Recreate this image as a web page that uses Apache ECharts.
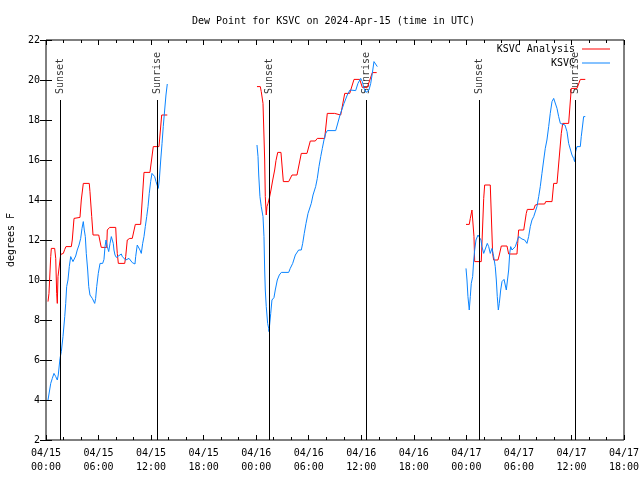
<!DOCTYPE html>
<html>
<head>
<meta charset="utf-8">
<script src="https://cdn.jsdelivr.net/npm/echarts@6/dist/echarts.min.js"></script>
<style>html,body{margin:0;padding:0;background:#fff;}#c{width:640px;height:480px;}</style>
</head>
<body>
<div id="c"></div>
<script>
// Time is hours after 2024-04-15 00:00 UTC; values are dew point in degrees F.
const analysisApr15 = [[0.23,8.92],[0.34,9.33],[0.54,11.17],[0.61,11.58],[0.99,11.58],[1.11,11.08],[1.22,9.33],[1.29,8.83],[1.37,10.17],[1.68,11.28],[1.98,11.33],[2.14,11.53],[2.28,11.67],[2.89,11.67],[3.0,12.0],[3.2,13.08],[3.28,13.13],[3.88,13.13],[4.03,14.0],[4.26,14.83],[4.94,14.83],[5.02,14.42],[5.22,13.17],[5.37,12.25],[6.02,12.25],[6.25,11.75],[6.31,11.63],[6.93,11.63],[7.0,12.5],[7.27,12.63],[7.96,12.63],[8.03,12.0],[8.14,11.33],[8.26,10.83],[8.99,10.83],[9.1,11.17],[9.28,12.0],[9.56,12.08],[9.85,12.08],[10.2,12.78],[10.81,12.78],[11.19,15.38],[11.87,15.38],[12.25,16.67],[12.9,16.67],[13.21,18.25],[13.85,18.25]];
const analysisApr16 = [[24.09,19.67],[24.47,19.67],[24.58,19.42],[24.78,18.83],[24.97,16.0],[25.04,14.17],[25.15,13.25],[25.23,13.67],[25.35,13.83],[25.54,14.17],[25.69,14.5],[25.89,15.0],[26.11,15.5],[26.26,15.97],[26.46,16.38],[26.83,16.38],[27.1,14.92],[27.71,14.92],[28.09,15.25],[28.66,15.25],[29.15,16.33],[29.8,16.33],[30.18,16.95],[30.75,16.95],[30.98,17.08],[31.82,17.08],[32.12,18.33],[32.96,18.33],[33.08,18.25],[33.65,18.25],[34.11,19.33],[34.68,19.33],[35.17,20.03],[35.82,20.03],[36.12,19.63],[36.69,19.63],[37.26,20.37],[37.76,20.37]];
const analysisApr17 = [[47.96,12.78],[48.33,12.78],[48.45,13.08],[48.64,13.5],[48.87,12.17],[48.95,10.92],[49.7,10.92],[49.98,14.08],[50.09,14.75],[50.73,14.75],[51.0,11.33],[51.12,11.0],[51.61,11.0],[51.76,11.25],[51.99,11.7],[52.64,11.7],[52.83,11.3],[53.78,11.3],[53.86,11.83],[53.97,12.5],[54.55,12.5],[54.84,13.33],[54.96,13.53],[55.69,13.53],[55.87,13.75],[56.26,13.8],[56.94,13.8],[57.06,13.92],[57.78,13.92],[57.97,14.83],[58.35,14.83],[58.84,17.33],[59.0,17.83],[59.68,17.83],[59.98,19.58],[60.63,19.58],[61.01,20.03],[61.58,20.03]];
const ksvcApr15 = [[0.23,4.0],[0.54,4.83],[0.72,5.08],[0.91,5.33],[1.11,5.17],[1.29,5.0],[1.4,5.25],[1.6,6.08],[1.75,6.42],[1.94,7.17],[2.14,8.17],[2.25,8.83],[2.36,9.67],[2.51,10.0],[2.66,10.67],[2.82,11.17],[2.93,11.25],[3.08,10.92],[3.23,10.83],[3.39,11.2],[3.57,11.5],[3.77,11.75],[3.96,12.08],[4.11,12.58],[4.26,12.92],[4.37,12.5],[4.49,12.17],[4.6,11.33],[4.76,10.5],[4.88,9.67],[5.02,9.25],[5.29,9.08],[5.56,8.83],[5.67,9.08],[5.79,9.67],[5.97,10.33],[6.17,10.83],[6.28,10.92],[6.47,10.83],[6.62,11.03],[6.74,11.67],[6.85,12.0],[7.0,11.67],[7.16,11.42],[7.31,11.83],[7.46,12.17],[7.57,12.25],[7.68,11.83],[7.76,11.5],[7.88,11.25],[8.03,11.13],[8.22,11.2],[8.6,11.3],[8.71,11.17],[8.91,11.08],[9.1,11.0],[9.48,11.08],[9.67,11.0],[9.85,10.87],[10.16,10.8],[10.24,11.17],[10.42,11.75],[10.58,11.83],[10.73,11.5],[10.88,11.33],[11.04,11.83],[11.19,12.17],[11.34,12.67],[11.5,13.17],[11.65,13.67],[11.79,14.33],[11.95,14.92],[12.1,15.33],[12.25,15.42],[12.41,15.17],[12.56,14.92],[12.71,14.83],[12.82,14.58],[12.94,15.0],[13.1,16.0],[13.25,16.83],[13.39,17.67],[13.55,18.5],[13.7,19.25],[13.85,19.8]];
const ksvcApr16 = [[24.09,16.75],[24.21,16.17],[24.29,15.25],[24.43,14.17],[24.58,13.67],[24.78,13.17],[24.89,12.17],[24.97,10.5],[25.04,9.5],[25.15,8.67],[25.31,7.83],[25.43,7.58],[25.46,7.42],[25.66,8.33],[25.8,9.0],[26.03,9.12],[26.18,9.5],[26.41,10.0],[26.64,10.25],[26.87,10.38],[27.71,10.38],[27.89,10.58],[28.17,10.83],[28.47,11.25],[28.85,11.5],[29.15,11.5],[29.31,11.83],[29.49,12.33],[29.69,12.83],[29.92,13.33],[30.29,13.83],[30.49,14.25],[30.79,14.67],[30.98,15.08],[31.17,15.67],[31.37,16.17],[31.55,16.58],[31.74,17.0],[31.94,17.33],[32.12,17.47],[33.08,17.47],[33.26,17.75],[33.57,18.25],[34.03,18.83],[34.4,19.25],[34.71,19.5],[35.36,19.47],[35.62,19.83],[35.93,20.08],[36.12,19.92],[36.31,19.58],[36.54,19.38],[36.69,19.33],[36.88,19.5],[37.08,19.83],[37.26,20.33],[37.45,20.92],[37.65,20.83],[37.83,20.67]];
const ksvcApr17 = [[47.96,10.58],[48.07,10.0],[48.18,9.17],[48.33,8.5],[48.45,9.17],[48.56,9.83],[48.72,10.17],[48.84,11.0],[48.95,11.5],[49.1,12.0],[49.33,12.25],[49.48,12.17],[49.67,12.0],[49.78,11.67],[49.98,11.33],[50.39,11.83],[50.55,11.67],[50.73,11.33],[50.93,11.58],[51.12,11.17],[51.3,10.67],[51.42,10.0],[51.53,9.17],[51.65,8.5],[51.76,8.83],[51.92,9.5],[52.07,9.92],[52.3,10.03],[52.56,9.5],[52.83,10.5],[52.95,11.33],[53.06,11.67],[53.21,11.5],[53.41,11.42],[53.59,11.67],[53.78,11.92],[53.97,12.17],[54.35,12.05],[54.66,12.0],[54.92,11.83],[55.11,12.17],[55.3,12.67],[55.49,13.0],[55.69,13.17],[56.06,13.67],[56.26,14.17],[56.44,14.67],[56.63,15.33],[56.83,16.0],[57.01,16.58],[57.2,17.0],[57.4,17.67],[57.58,18.33],[57.78,18.92],[57.97,19.08],[58.15,19.05],[58.35,18.58],[58.54,18.17],[58.73,17.83],[58.92,17.75],[59.26,17.75],[59.49,17.42],[59.68,16.83],[60.06,16.25],[60.25,16.08],[60.36,15.92],[60.48,16.42],[60.63,16.67],[60.82,16.58],[61.01,16.67],[61.12,17.17],[61.28,17.75],[61.39,18.17],[61.58,18.17]];
const sunTimes = [1.6, 12.71, 25.5, 36.57, 49.47, 60.44];
const sunLabels = ['Sunset', 'Sunrise', 'Sunset', 'Sunrise', 'Sunset', 'Sunrise'];
const sunLineTop = 19;
const xMin = 0, xMax = 66, xStep = 6;
const yMin = 2, yMax = 22, yStep = 2;
const seriesNames = ['KSVC Analysis', 'KSVC'];
const titleText = 'Dew Point for KSVC on 2024-Apr-15 (time in UTC)';
const yTitle = 'degrees F';

const FONT = 'DejaVu Sans Mono';
function joinSegments(segs) {
  const out = [];
  segs.forEach((s, i) => { if (i > 0) out.push([s[0][0] - 0.01, '-']); s.forEach(p => out.push(p)); });
  return out;
}
function fmtX(v) {
  const day = 15 + Math.floor(v / 24);
  const hh = v % 24;
  return '04/' + day + '\n' + (hh < 10 ? '0' : '') + hh + ':00';
}
const chart = echarts.init(document.getElementById('c'), null, {renderer: 'canvas'});
const xBase = {type: 'value', min: xMin, max: xMax, interval: xStep,
  axisLine: {show: false}, splitLine: {show: false},
  axisTick: {show: true, inside: true, length: 5, lineStyle: {color: '#000'}},
  minorTick: {show: true, splitNumber: 3, length: 3, lineStyle: {color: '#000'}}};
const yBase = {type: 'value', min: yMin, max: yMax, interval: yStep,
  axisLine: {show: false}, splitLine: {show: false},
  axisTick: {show: true, inside: true, length: 6, lineStyle: {color: '#000'}}};
const legendBase = {right: 30, padding: 0, align: 'right', icon: 'rect', itemWidth: 28, itemHeight: 1, itemGap: 0,
  textStyle: {fontFamily: FONT, fontSize: 10, color: '#000', padding: [0, 2, 0, 0]}};
chart.setOption({
  animation: false,
  backgroundColor: '#fff',
  title: {text: titleText, left: 187, top: 11,
    textStyle: {fontFamily: FONT, fontSize: 10, fontWeight: 'normal', color: '#000'}},
  legend: [
    Object.assign({}, legendBase, {data: [seriesNames[0]], top: 44}),
    Object.assign({}, legendBase, {data: [seriesNames[1]], top: 58})
  ],
  grid: {left: 46, right: 16, top: 40, bottom: 40, containLabel: false, outerBoundsMode: 'none',
    show: true, borderColor: '#000', borderWidth: 1, backgroundColor: 'transparent'},
  xAxis: [
    Object.assign({}, xBase, {position: 'bottom',
      axisLabel: {formatter: fmtX, fontFamily: FONT, fontSize: 10, color: '#000', lineHeight: 14, margin: 6}}),
    Object.assign({}, xBase, {position: 'top', axisLabel: {show: false}})
  ],
  yAxis: [
    Object.assign({}, yBase, {position: 'left', name: yTitle, nameLocation: 'middle', nameGap: 30, nameRotate: 90,
      nameTextStyle: {fontFamily: FONT, fontSize: 10, color: '#000'},
      axisLabel: {fontFamily: FONT, fontSize: 10, color: '#000', margin: 6}}),
    Object.assign({}, yBase, {position: 'right', axisLabel: {show: false}})
  ],
  series: [
    {name: seriesNames[0], type: 'line', data: joinSegments([analysisApr15, analysisApr16, analysisApr17]),
      symbol: 'none', showSymbol: false, connectNulls: false, color: '#ff0000', lineStyle: {width: 1, color: '#ff0000'}, z: 3},
    {name: seriesNames[1], type: 'line', data: joinSegments([ksvcApr15, ksvcApr16, ksvcApr17]),
      symbol: 'none', showSymbol: false, connectNulls: false, color: '#0a84ff', lineStyle: {width: 1, color: '#0a84ff'}, z: 4},
    {name: 'sun', type: 'scatter', symbolSize: 0, silent: true, z: 2,
      data: sunTimes.map((t, i) => [t, sunLineTop, sunLabels[i]]),
      label: {show: true, formatter: p => p.data[2], position: 'top', distance: 6, rotate: 90,
        align: 'left', verticalAlign: 'middle', fontFamily: FONT, fontSize: 10, color: '#000'},
      markLine: {silent: true, symbol: ['none', 'none'], label: {show: false},
        lineStyle: {color: '#000', width: 1, type: 'solid'},
        data: sunTimes.map(t => [{coord: [t, yMin]}, {coord: [t, sunLineTop]}])}}
  ]
});
</script>
</body>
</html>
